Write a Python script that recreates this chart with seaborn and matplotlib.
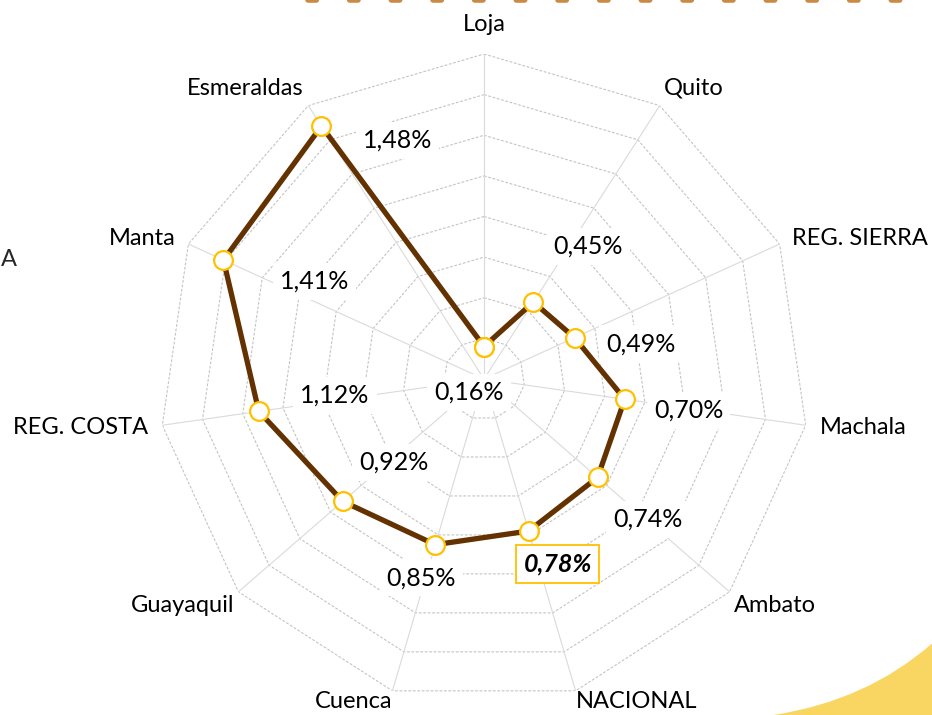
import numpy as np
import matplotlib
matplotlib.use('Agg')
from matplotlib import pyplot as plt
from matplotlib.lines import Line2D
from matplotlib.patches import PathPatch
from matplotlib.path import Path
import seaborn as sns


# data (percent), clockwise from the top
cities = ['Loja', 'Quito', 'REG. SIERRA', 'Machala', 'Ambato', 'NACIONAL',
          'Cuenca', 'Guayaquil', 'REG. COSTA', 'Manta', 'Esmeraldas']
values = [0.16, 0.45, 0.49, 0.70, 0.74, 0.78, 0.85, 0.92, 1.12, 1.41, 1.48]
ring_ticks = [0.2, 0.4, 0.6, 0.8, 1.0, 1.2, 1.4, 1.6]
highlight = 'NACIONAL'

# label offsets from each point, in pixels (dx right, dy down)
label_offsets = [(-15, 46), (55, -56), (66, 6), (64, 11), (50, 42), (29, 33),
                 (-14, 33), (51, -39), (76, -16), (91, 21), (76, 14)]

sns.set_style('white')
plt.rcParams['font.family'] = ['Lato', 'DejaVu Sans']
plt.rcParams['font.size'] = 17

line_color = '#633200'
gold = '#FFC000'

n = len(cities)
theta = np.linspace(0, 2 * np.pi, n, endpoint=False)
theta_closed = np.append(theta, 2 * np.pi)
r_max = ring_ticks[-1]

fig = plt.figure(figsize=(9.32, 7.15), dpi=100)
cx, cy, rad = 484, 379, 325
ax = fig.add_axes([(cx - rad) / 932, (715 - cy - rad) / 715,
                   2 * rad / 932, 2 * rad / 715], projection='polar')
ax.set_theta_offset(np.pi / 2)
ax.set_theta_direction(-1)
ax.grid(False)
ax.spines['polar'].set_visible(False)
ax.set_facecolor('none')

# polygon rings and spokes
for r in ring_ticks:
    ax.plot(theta_closed, [r] * (n + 1), color='#c4c4c4', lw=0.8,
            ls=(0, (2.5, 1.5)), zorder=1)
for t in theta:
    ax.plot([t, t], [0, r_max], color='#dadada', lw=0.8, zorder=1)

sns.lineplot(
    x=theta_closed, y=values + values[:1], sort=False, ax=ax,
    color=line_color, lw=3.8, marker='o', markersize=13.5,
    markerfacecolor='white', markeredgecolor=gold, markeredgewidth=1.6,
    zorder=3
)
ax.set_xlabel('')
ax.set_ylabel('')
ax.set_xticks([])
ax.set_yticks([])
ax.set_ylim(0, r_max)

# category labels
for t, name in zip(theta, cities):
    phi = np.pi / 2 - t
    c, s = np.cos(phi), np.sin(phi)
    if abs(c) < 0.1:
        ha = 'center'
    elif c > 0:
        ha = 'left'
    else:
        ha = 'right'
    if s > 0.9:
        va, off = 'bottom', 14
    elif s > 0.6:
        va, off = 'bottom', 6
    elif s > -0.3:
        va, off = 'center', 10
    elif s > -0.9 and abs(c) > 0.5:
        va, off = 'top', 4
    else:
        va, off = 'top', 0
    ax.annotate(name, xy=(t, r_max), xytext=(off * c, off * s),
                textcoords='offset points', ha=ha, va=va,
                fontsize=17, color='black', annotation_clip=False)

# value labels
for t, v, name, (dx, dy) in zip(theta, values, cities, label_offsets):
    txt = ('%.2f' % v).replace('.', ',') + '%'
    if name == highlight:
        box = dict(boxstyle='square,pad=0.3', fc='white', ec=gold, lw=1.3)
        weight, style = 'bold', 'italic'
    else:
        box = dict(boxstyle='square,pad=0.28', fc='white', ec='none')
        weight, style = 'normal', 'normal'
    ax.annotate(txt, xy=(t, v), xytext=(dx * 0.72, -dy * 0.72),
                textcoords='offset points', ha='center', va='center',
                fontsize=18, fontweight=weight, fontstyle=style,
                color='black', bbox=box, zorder=2.5, annotation_clip=False)

# bits of the slide around the chart
fig.text(0.001, 1 - 260 / 715, 'A', ha='left', va='center', fontsize=17)
fig.add_artist(Line2D([0.33, 1.0], [1.0, 1.0], transform=fig.transFigure,
                      color='#c98a45', lw=4, ls=(0, (1.5, 6)),
                      solid_capstyle='round', dash_capstyle='round'))
swoosh = Path([(0.83, 0.0), (0.93, 0.02), (1.0, 0.1), (1.0, 0.0), (0.83, 0.0)],
              [Path.MOVETO, Path.CURVE3, Path.CURVE3, Path.LINETO, Path.CLOSEPOLY])
fig.add_artist(PathPatch(swoosh, transform=fig.transFigure,
                         fc='#f7cf45', ec='none', alpha=0.85))

fig.savefig('out.png', dpi=100)
